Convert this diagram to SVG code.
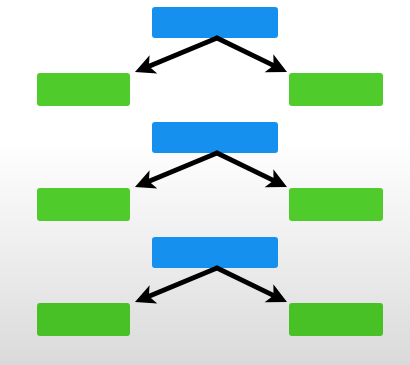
<svg xmlns="http://www.w3.org/2000/svg" width="410" height="365" viewBox="0 0 410 365">
  <defs>
    <linearGradient id="bg" x1="0" y1="0" x2="0" y2="1">
      <stop offset="0" stop-color="#ffffff"/>
      <stop offset="0.38" stop-color="#ffffff"/>
      <stop offset="0.65" stop-color="#f0f0f0"/>
      <stop offset="1" stop-color="#dadada"/>
    </linearGradient>
    <marker id="head" markerUnits="userSpaceOnUse" viewBox="-12 -12 24 24" refX="0" refY="0" markerWidth="24" markerHeight="24" orient="auto">
      <path d="M10,0 L-10,-10 L-5,0 L-10,10 z" fill="#000"/>
    </marker>
    <style>
      .parent { fill: #1690ee; }
      .child { fill: #4fcb2b; }
      .edge { stroke: #000; stroke-width: 4.8; stroke-linecap: round; fill: none; marker-end: url(#head); }
    </style>
  </defs>

  <rect width="410" height="365" fill="url(#bg)"/>

  <!-- tier 1 -->
  <g id="parent-1"><rect class="parent" x="152" y="7" width="126" height="31" rx="3"/></g>
  <g id="left-1"><rect class="child" x="37" y="73" width="93" height="33" rx="3"/></g>
  <g id="right-1"><rect class="child" x="289" y="73" width="94" height="33" rx="3"/></g>

  <!-- tier 2 -->
  <g id="parent-2"><rect class="parent" x="152" y="122" width="126" height="31" rx="3"/></g>
  <g id="left-2"><rect class="child" x="37" y="188" width="93" height="33" rx="3"/></g>
  <g id="right-2"><rect class="child" x="289" y="188" width="94" height="33" rx="3"/></g>

  <!-- tier 3 -->
  <g id="parent-3"><rect class="parent" x="152" y="237" width="126" height="31" rx="3"/></g>
  <g id="left-3"><rect class="child" x="37" y="303" width="93" height="33" rx="3" style="fill:#47c126"/></g>
  <g id="right-3"><rect class="child" x="289" y="303" width="94" height="33" rx="3" style="fill:#47c126"/></g>

  <g id="connectors">
    <line class="edge" x1="217" y1="38" x2="144.2" y2="68.2"/>
    <line class="edge" x1="217" y1="38" x2="278" y2="67.6"/>
    <line class="edge" x1="217" y1="153" x2="144.2" y2="183.2"/>
    <line class="edge" x1="217" y1="153" x2="278" y2="182.6"/>
    <line class="edge" x1="217" y1="268" x2="144.2" y2="298.2"/>
    <line class="edge" x1="217" y1="268" x2="278" y2="297.6"/>
  </g>
</svg>
